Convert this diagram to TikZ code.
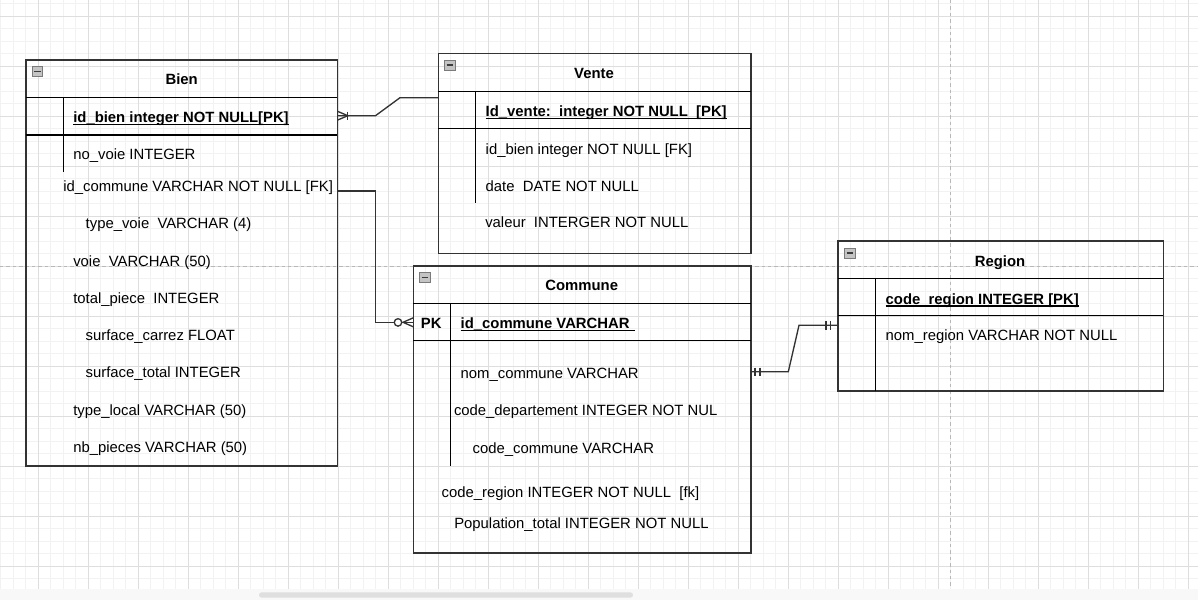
\documentclass[tikz,border=0pt]{standalone}
\usepackage{fontspec}
\setmainfont{Liberation Sans}
\usetikzlibrary{calc}
\definecolor{gridminor}{HTML}{F2F2F2}
\definecolor{gridmajor}{HTML}{DEDEDE}
\definecolor{pageline}{HTML}{B8B8B8}
\definecolor{edgecol}{HTML}{333333}
\definecolor{iconfill}{HTML}{C4C4C4}
\definecolor{iconedge}{HTML}{7A7A7A}
\definecolor{iconbar}{HTML}{3C3C3C}
\definecolor{bandcol}{HTML}{F8F8F8}
\definecolor{thumbcol}{HTML}{DFDFDF}
\newcommand{\fieldfont}{\fontsize{11.14pt}{13pt}\selectfont}
\tikzset{
  tablebox/.style={draw=edgecol, line width=1.2pt, rectangle, inner sep=0pt, outer sep=0pt, anchor=north west},
  rowline/.style={draw=black, line width=0.85pt},
  fld/.style={anchor=base west, inner sep=0pt, outer sep=0pt, font=\fieldfont, text=black},
  keyfld/.style={fld, font=\fieldfont\bfseries},
  ttl/.style={anchor=base, inner sep=0pt, outer sep=0pt, font=\fieldfont\bfseries, text=black},
  ulline/.style={draw=black, line width=0.9pt},
  conn/.style={draw=edgecol, line width=1pt},
  minbox/.style={draw=iconedge, fill=iconfill, line width=0.7pt},
  minbar/.style={draw=iconbar, line width=1.1pt},
}
\newcommand{\minusicon}[2]{%
  \draw[minbox] (#1,#2) rectangle ++(10.5,10);
  \draw[minbar] ($(#1,#2)+(2,5)$) -- ++(6.5,0);
}
\begin{document}
\begin{tikzpicture}[x=0.75pt,y=-0.75pt]
\useasboundingbox (0,0) rectangle (1198,600);
\fill[white] (0,0) rectangle (1198,600);

% background grid
\foreach \i in {0,...,95} \draw[gridminor, line width=0.75pt] (0.8+12.5*\i,0) -- (0.8+12.5*\i,588.7);
\foreach \j in {0,...,46} \draw[gridminor, line width=0.75pt] (0,3.5+12.5*\j) -- (1198,3.5+12.5*\j);
\foreach \i in {0,...,23} \draw[gridmajor, line width=0.75pt] (38.3+50*\i,0) -- (38.3+50*\i,588.7);
\foreach \j in {0,...,11} \draw[gridmajor, line width=0.75pt] (0,16+50*\j) -- (1198,16+50*\j);

% page break lines
\draw[pageline, line width=0.75pt, dash pattern=on 2.6pt off 2.2pt] (0,266) -- (1198,266);
\draw[pageline, line width=0.75pt, dash pattern=on 2.6pt off 2.2pt] (950.7,0) -- (950.7,588.7);

% scroll bar
\fill[bandcol] (0,588.7) rectangle (1198,600);
\fill[thumbcol, rounded corners=2pt] (259,592.3) rectangle (633,597.7);

% ---------------- Bien ----------------
\node[tablebox, minimum width=233.7pt, minimum height=304.3pt] (bien) at (25.7,60) {};
\draw[rowline] (25.7,97.3) -- (337.3,97.3);
\draw[rowline] (25.7,135) -- (337.3,135);
\draw[rowline] (63.3,97.3) -- (63.3,171.7);
\minusicon{32}{66.5}
\node[ttl] (bienT) at (181.7,84.3) {Bien};
\node[keyfld] (bien1) at (73.3,122.5) {id\_bien integer NOT NULL[PK]};
\draw[ulline] ($(bien1.base west)+(0,2)$) -- ($(bien1.base east)+(0,2)$);
\node[fld] (bien2) at (73.3,159) {no\_voie INTEGER};
\node[fld] (bien3) at (63.3,191.5) {id\_commune VARCHAR NOT NULL [FK]};
\node[fld] (bien4) at (85.7,228.3) {type\_voie~~VARCHAR (4)};
\node[fld] (bien5) at (73.3,266) {voie~~VARCHAR (50)};
\node[fld] (bien6) at (73.3,303.3) {total\_piece~~INTEGER};
\node[fld] (bien7) at (85.7,340) {surface\_carrez FLOAT};
\node[fld] (bien8) at (85.7,377.7) {surface\_total INTEGER};
\node[fld] (bien9) at (73.3,415) {type\_local VARCHAR (50)};
\node[fld] (bien10) at (73.3,452.7) {nb\_pieces VARCHAR (50)};

% ---------------- Vente ----------------
\node[tablebox, minimum width=234.3pt, minimum height=150pt] (vente) at (438.3,53.3) {};
\draw[rowline] (438.3,91.7) -- (750.7,91.7);
\draw[rowline] (438.3,128.7) -- (750.7,128.7);
\draw[rowline] (475.7,91.7) -- (475.7,203.3);
\minusicon{444.5}{60}
\node[ttl] (venteT) at (594,78.3) {Vente};
\node[keyfld] (vente1) at (485.7,116.7) {Id\_vente:~~integer NOT NULL~~[PK]};
\draw[ulline] ($(vente1.base west)+(0,1.8)$) -- ($(vente1.base east)+(0,1.8)$);
\node[fld] (vente2) at (485.7,154) {id\_bien integer NOT NULL [FK]};
\node[fld] (vente3) at (485.7,191) {date~~DATE NOT NULL};
\node[fld] (vente4) at (485.3,227.7) {valeur~~INTERGER NOT NULL};

% ---------------- Commune ----------------
\node[tablebox, minimum width=253.05pt, minimum height=215.25pt] (commune) at (413.3,265.7) {};
\draw[rowline] (413.3,303.3) -- (750.7,303.3);
\draw[rowline] (413.3,340.7) -- (750.7,340.7);
\draw[rowline] (450.7,303.3) -- (450.7,465.7);
\minusicon{419.5}{272.5}
\node[ttl] (communeT) at (581.7,290) {Commune};
\node[ttl] (communePK) at (431.3,328.3) {PK};
\node[keyfld] (commune1) at (460.7,328.3) {id\_commune VARCHAR\kern3.7pt};
\draw[ulline] ($(commune1.base west)+(0,2)$) -- ($(commune1.base east)+(0,2)$);
\node[fld] (commune2) at (460.7,378.3) {nom\_commune VARCHAR};
\node[fld] (commune3) at (454,415) {code\_departement INTEGER NOT NUL};
\node[fld] (commune4) at (472.7,453.3) {code\_commune VARCHAR};
\node[fld] (commune5) at (441.7,497.7) {code\_region INTEGER NOT NULL~~[fk]};
\node[fld] (commune6) at (454.3,528.3) {Population\_total INTEGER NOT NULL};

% ---------------- Region ----------------
\node[tablebox, minimum width=244.2pt, minimum height=112.5pt] (region) at (837.7,240.7) {};
\draw[rowline] (837.7,278.3) -- (1163.3,278.3);
\draw[rowline] (837.7,315.7) -- (1163.3,315.7);
\draw[rowline] (875.7,278.3) -- (875.7,390.7);
\minusicon{844.5}{248}
\node[ttl] (regionT) at (1000,266) {Region};
\node[keyfld] (region1) at (885.7,304) {code\_region INTEGER [PK]};
\draw[ulline] ($(region1.base west)+(0,2)$) -- ($(region1.base east)+(0,2)$);
\node[fld] (region2) at (885.7,340.7) {nom\_region VARCHAR NOT NULL};

% ---------------- relations ----------------
% Bien (one or many) -- Vente
\draw[conn] (bien.east |- 0,115.7) -- (375.5,115.7) -- (400,97.7) -- (vente.west |- 0,97.7);
\draw[conn] (bien.east |- 0,111.2) -- (347.8,115.7) -- (bien.east |- 0,120.2);
\draw[conn] (347.8,111.5) -- (347.8,120);

% Bien.id_commune -- Commune (zero or many)
\draw[conn] (bien.east |- 0,191) -| (375.7,322.3) -- (commune.west |- 0,322.3);
\draw[conn] (commune.west |- 0,317.8) -- (403,322.3) -- (commune.west |- 0,326.8);
\draw[conn, fill=white] (398,322.4) circle[radius=2.8pt];

% Commune (one and only one) -- Region (one and only one)
\draw[conn] (commune.east |- 0,371.7) -- (788.3,371.7) -- (799,325.3) -- (region.west |- 0,325.3);
\draw[conn] (755,367.7) -- (755,376);
\draw[conn] (760,367.7) -- (760,376);
\draw[conn] (826,321.2) -- (826,329.5);
\draw[conn] (830.7,321.2) -- (830.7,329.5);
\end{tikzpicture}
\end{document}
